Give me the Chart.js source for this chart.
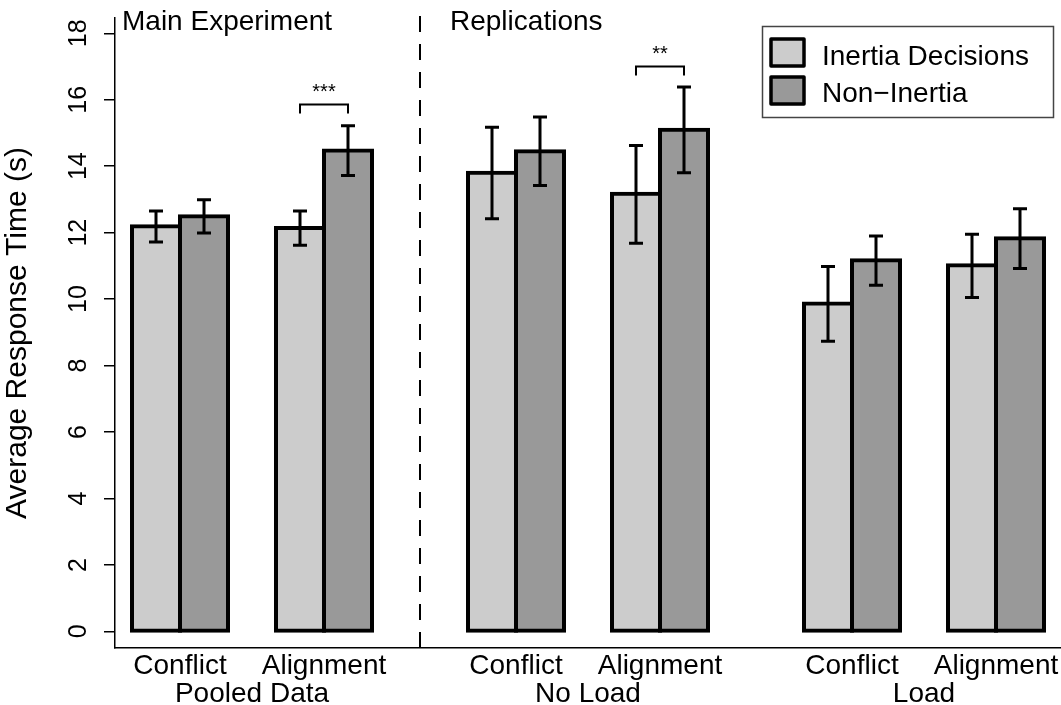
<!DOCTYPE html>
<html>
<head>
<meta charset="utf-8">
<script src="https://cdn.jsdelivr.net/npm/chart.js@4.4.0/dist/chart.umd.min.js"></script>
<style>
  html, body { margin: 0; padding: 0; background: #fff; }
  #wrap { width: 1061px; height: 705px; }
</style>
</head>
<body>
<div id="wrap"><canvas id="rt-chart" width="1061" height="705"></canvas></div>
<script>
// ---- data ----
const groups = ['Pooled Data', 'No Load', 'Load'];
const conditions = ['Conflict', 'Alignment'];
const seriesNames = ['Inertia Decisions', 'Non\u2212Inertia'];

// one value per cell: Pooled/Conflict, Pooled/Alignment, NoLoad/Conflict, ...
const inertiaMean = [12.19, 12.14, 13.80, 13.17, 9.87, 11.02];
const inertiaLow  = [11.72, 11.62, 12.42, 11.68, 8.73, 10.05];
const inertiaHigh = [12.65, 12.65, 15.17, 14.62, 10.98, 11.95];

const nonMean = [12.49, 14.47, 14.45, 15.10, 11.17, 11.83];
const nonLow  = [11.99, 13.72, 13.42, 13.80, 10.42, 10.92];
const nonHigh = [12.99, 15.22, 15.48, 16.38, 11.90, 12.72];

const yTicks = [0, 2, 4, 6, 8, 10, 12, 14, 16, 18];

// significance brackets: cell index, bracket height, stars
const sigCell  = [1, 3];
const sigLevel = [15.88, 17.03];
const sigLabel = ['***', '**'];

const sectionTitles = ['Main Experiment', 'Replications'];

// ---- layout helpers (barplot-like spacing) ----
const GROUP_STEP = 7, PAIR_STEP = 3;
function cellStart(i) { return Math.floor(i / 2) * GROUP_STEP + (i % 2) * PAIR_STEP; }
function barPos(i, s) { return cellStart(i) + s + 0.5; }
const pairCenters = inertiaMean.map((v, i) => cellStart(i) + 1);
const groupCenters = groups.map((g, j) => j * GROUP_STEP + 2.5);
const dividerPos = 6;

const FONT = 'Liberation Sans, Arial, Helvetica, sans-serif';
const colors = ['#cccccc', '#999999'];
const errLow = [inertiaLow, nonLow];
const errHigh = [inertiaHigh, nonHigh];

const extras = {
  id: 'extras',
  afterDatasetsDraw(chart) {
    const ctx = chart.ctx, y = chart.scales.y;
    ctx.save();
    ctx.strokeStyle = '#000';
    ctx.lineWidth = 3;
    chart.data.datasets.forEach((ds, di) => {
      chart.getDatasetMeta(di).data.forEach((bar, i) => {
        const y1 = y.getPixelForValue(errLow[di][i]);
        const y2 = y.getPixelForValue(errHigh[di][i]);
        ctx.beginPath();
        ctx.moveTo(bar.x, y1); ctx.lineTo(bar.x, y2);
        ctx.moveTo(bar.x - 7, y1); ctx.lineTo(bar.x + 7, y1);
        ctx.moveTo(bar.x - 7, y2); ctx.lineTo(bar.x + 7, y2);
        ctx.stroke();
      });
    });
    ctx.restore();
  },
  afterDraw(chart) {
    const ctx = chart.ctx, x = chart.scales.x, y = chart.scales.y, area = chart.chartArea;
    ctx.save();

    // dashed divider between main experiment and replications
    const dx = Math.round(x.getPixelForValue(dividerPos));
    ctx.strokeStyle = '#000';
    ctx.lineWidth = 2;
    ctx.setLineDash([16, 12]);
    ctx.beginPath();
    ctx.moveTo(dx, area.bottom); ctx.lineTo(dx, 14);
    ctx.stroke();
    ctx.setLineDash([]);

    // section titles
    ctx.fillStyle = '#000';
    ctx.font = '28px ' + FONT;
    ctx.textBaseline = 'alphabetic';
    ctx.textAlign = 'left';
    ctx.fillText(sectionTitles[0], area.left + 7, 29.5);
    ctx.fillText(sectionTitles[1], dx + 30, 29.5);

    // significance brackets
    const m0 = chart.getDatasetMeta(0).data, m1 = chart.getDatasetMeta(1).data;
    ctx.lineWidth = 2;
    sigCell.forEach((c, k) => {
      const by = Math.round(y.getPixelForValue(sigLevel[k])) + 0.5;
      const x1 = m0[c].x, x2 = m1[c].x;
      ctx.beginPath();
      ctx.moveTo(x1, by + 9); ctx.lineTo(x1, by); ctx.lineTo(x2, by); ctx.lineTo(x2, by + 9);
      ctx.stroke();
      ctx.font = '20px ' + FONT;
      ctx.textAlign = 'center';
      ctx.fillText(sigLabel[k], (x1 + x2) / 2, by - 7);
    });

    // legend box
    const lx = area.right - 299, ly = 26, lw = 291, lh = 91;
    ctx.strokeStyle = '#444';
    ctx.lineWidth = 1.5;
    ctx.strokeRect(lx + 0.5, ly + 0.5, lw, lh);
    chart.data.datasets.forEach((ds, di) => {
      const sy = ly + 13 + di * 38;
      ctx.fillStyle = ds.backgroundColor;
      ctx.fillRect(lx + 9, sy, 33, 27);
      ctx.strokeStyle = '#000';
      ctx.lineWidth = 3.5;
      ctx.lineJoin = 'round';
      ctx.strokeRect(lx + 9, sy, 33, 27);
      ctx.fillStyle = '#000';
      ctx.font = '28px ' + FONT;
      ctx.textAlign = 'left';
      ctx.fillText(ds.label, lx + 60, ly + 39 + di * 37);
    });
    ctx.restore();
  }
};

const datasets = [inertiaMean, nonMean].map((vals, s) => ({
  label: seriesNames[s],
  data: vals.map((v, i) => ({ x: barPos(i, s), y: v })),
  backgroundColor: colors[s],
  borderColor: '#000',
  borderWidth: 4,
  borderSkipped: false,
  inflateAmount: 2,
  grouped: false,
  barPercentage: 1,
  categoryPercentage: 1
}));

new Chart(document.getElementById('rt-chart'), {
  type: 'bar',
  data: { datasets: datasets },
  options: {
    responsive: false,
    animation: false,
    devicePixelRatio: 1,
    layout: { padding: { top: 18, left: 0, right: 0, bottom: 0 } },
    plugins: {
      legend: { display: false },
      tooltip: { enabled: false }
    },
    scales: {
      x: {
        type: 'linear',
        position: 'bottom',
        offset: false,
        min: -17 / 48,
        max: 929 / 48,
        grid: { display: false, drawTicks: false, offset: false },
        border: { display: true, color: '#000', width: 1.5 },
        afterBuildTicks: s => { s.ticks = pairCenters.map(v => ({ value: v })); },
        afterFit: s => { s.height = 32; s.paddingLeft = 0; s.paddingRight = 0; },
        ticks: {
          autoSkip: false,
          maxRotation: 0,
          padding: 4,
          color: '#000',
          font: { family: FONT, size: 28, lineHeight: 1 },
          callback: (v, i) => conditions[i % 2]
        }
      },
      x2: {
        type: 'linear',
        position: 'bottom',
        weight: 1,
        offset: false,
        min: -17 / 48,
        max: 929 / 48,
        grid: { display: false, drawTicks: false, offset: false },
        border: { display: false },
        afterBuildTicks: s => { s.ticks = groupCenters.map(v => ({ value: v })); },
        afterFit: s => { s.height = 25; s.paddingLeft = 0; s.paddingRight = 0; },
        ticks: {
          autoSkip: false,
          maxRotation: 0,
          padding: 0,
          color: '#000',
          font: { family: FONT, size: 28, lineHeight: 1 },
          callback: (v, i) => groups[i]
        }
      },
      y: {
        min: -0.5,
        max: 18.46,
        grid: { display: true, drawOnChartArea: false, drawTicks: true, tickLength: 11, color: '#000', lineWidth: 1.5 },
        border: { display: true, color: '#000', width: 1.5 },
        afterBuildTicks: s => { s.ticks = yTicks.map(v => ({ value: v })); },
        afterFit: s => { s.width = 115; s.paddingTop = 0; s.paddingBottom = 0; },
        ticks: {
          minRotation: 90,
          maxRotation: 90,
          crossAlign: 'center',
          padding: 11,
          color: '#000',
          font: { family: FONT, size: 25 }
        },
        title: {
          display: true,
          text: 'Average Response Time (s)',
          color: '#000',
          padding: { top: 0, bottom: 0 },
          font: { family: FONT, size: 30 }
        }
      }
    }
  },
  plugins: [extras]
});
</script>
</body>
</html>
